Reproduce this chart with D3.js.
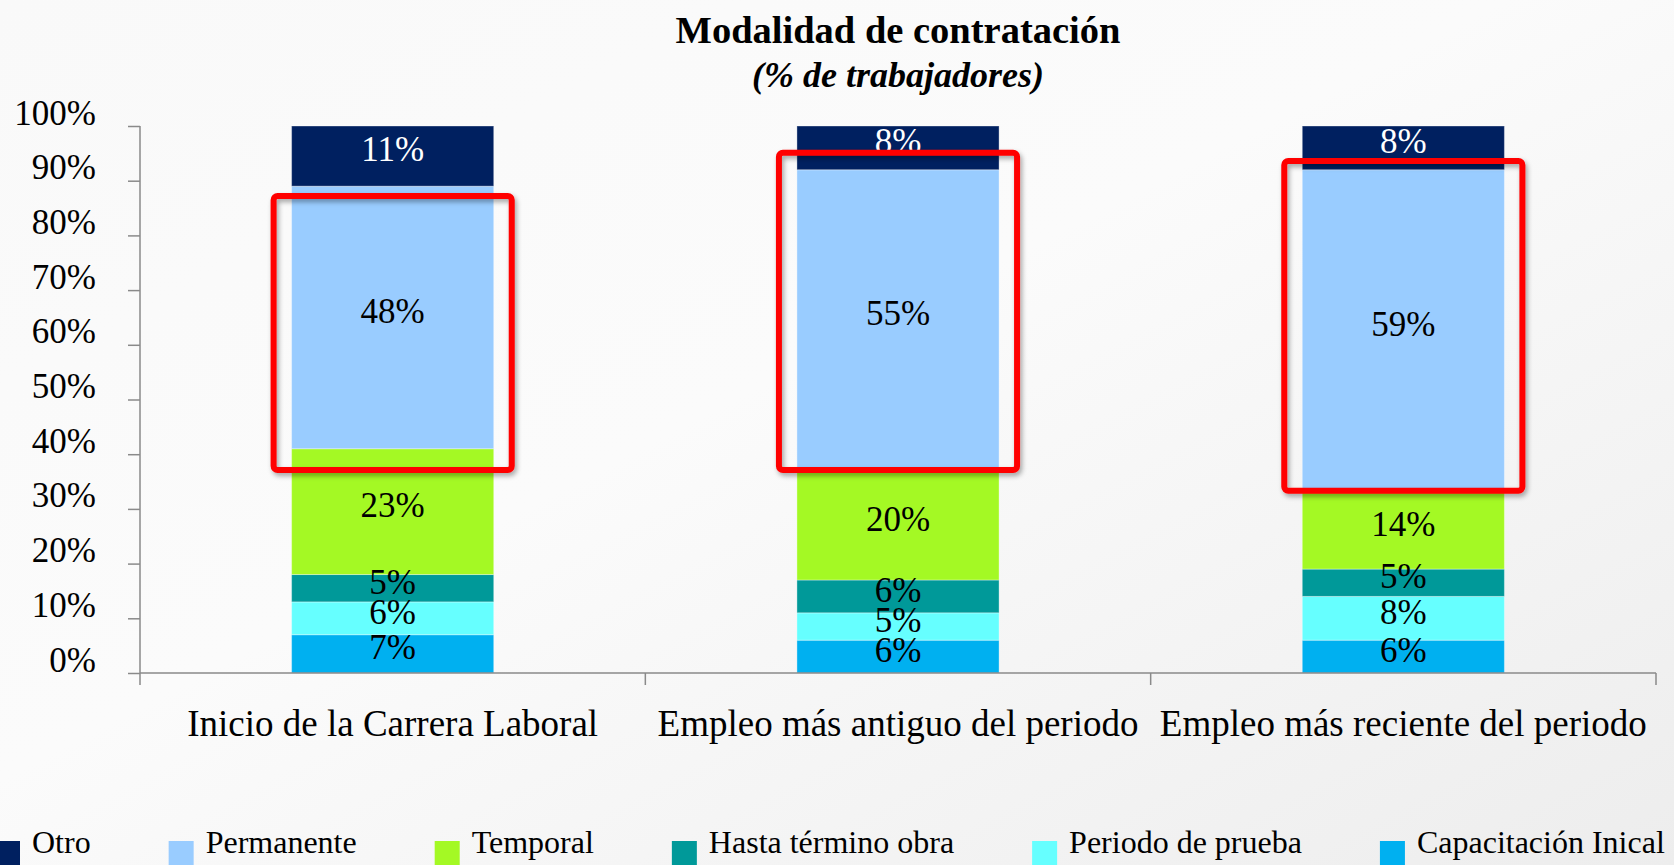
<!DOCTYPE html>
<html>
<head>
<meta charset="utf-8">
<script src="https://cdn.jsdelivr.net/npm/d3@7"></script>
<style>
body { margin: 0; overflow: hidden; background: #f5f5f5; }
svg text { font-family: "Liberation Serif", "Times New Roman", serif; }
</style>
</head>
<body>
<div id="chart"></div>
<script>
var categories = ["Inicio de la Carrera Laboral", "Empleo más antiguo del periodo", "Empleo más reciente del periodo"];

// series, stacked from the bottom up (values in %)
var seriesNames = ["Capacitación Inical", "Periodo de prueba", "Hasta término obra", "Temporal", "Permanente", "Otro"];
var capacitacion = [7, 6, 6];
var prueba = [6, 5, 8];
var obra = [5, 6, 5];
var temporal = [23, 20, 14];
var permanente = [48, 55, 59];
var otro = [11, 8, 8];

var yTicks = [0, 10, 20, 30, 40, 50, 60, 70, 80, 90, 100];
var legendOrder = ["Otro", "Permanente", "Temporal", "Hasta término obra", "Periodo de prueba", "Capacitación Inical"];

// red highlight boxes drawn over the chart, [bottom %, top %] per category
var highlight = [[37.1, 87.2], [37.1, 95.1], [33.3, 93.6]];

var colors = {
    "Otro": "#002060",
    "Permanente": "#99ccff",
    "Temporal": "#a4f924",
    "Hasta término obra": "#009999",
    "Periodo de prueba": "#66ffff",
    "Capacitación Inical": "#00b0f0"
};

var width = 1674, height = 865;
var plotLeft = 140, plotRight = 1656, plotTop = 126, plotBottom = 673;

var rows = categories.map(function(c, i) {
    return {
        cat: c,
        "Capacitación Inical": capacitacion[i],
        "Periodo de prueba": prueba[i],
        "Hasta término obra": obra[i],
        "Temporal": temporal[i],
        "Permanente": permanente[i],
        "Otro": otro[i]
    };
});

var svg = d3.select("#chart").append("svg")
    .attr("width", width)
    .attr("height", height);

var defs = svg.append("defs");
var grad = defs.append("linearGradient")
    .attr("id", "bg")
    .attr("x1", "0").attr("y1", "0").attr("x2", "1").attr("y2", "1");
grad.append("stop").attr("offset", "0").attr("stop-color", "#f9f9f9");
grad.append("stop").attr("offset", "0.45").attr("stop-color", "#fbfbfb");
grad.append("stop").attr("offset", "1").attr("stop-color", "#ededed");

var shadow = defs.append("filter").attr("id", "shadow")
    .attr("x", "-10%").attr("y", "-10%").attr("width", "120%").attr("height", "120%");
shadow.append("feDropShadow")
    .attr("dx", 2).attr("dy", 3)
    .attr("stdDeviation", 2.5)
    .attr("flood-color", "#000")
    .attr("flood-opacity", 0.35);

svg.append("rect")
    .attr("width", width).attr("height", height)
    .attr("fill", "url(#bg)");

var x = d3.scaleBand()
    .domain(categories)
    .range([plotLeft, plotRight])
    .paddingInner(0.6)
    .paddingOuter(0.3);

var y = d3.scaleLinear()
    .domain([0, 100])
    .range([plotBottom, plotTop]);

// title
var cx = (plotLeft + plotRight) / 2;
svg.append("text")
    .attr("x", cx).attr("y", 43)
    .attr("text-anchor", "middle")
    .attr("font-size", 38.5)
    .attr("font-weight", "bold")
    .text("Modalidad de contratación");
svg.append("text")
    .attr("x", cx).attr("y", 87)
    .attr("text-anchor", "middle")
    .attr("font-size", 36)
    .attr("font-weight", "bold")
    .attr("font-style", "italic")
    .text("(% de trabajadores)");

// y axis
var yAxis = svg.append("g")
    .attr("transform", "translate(" + plotLeft + ",0)")
    .call(d3.axisLeft(y)
        .tickValues(yTicks)
        .tickFormat(function(d) { return d + "%"; })
        .tickSize(12)
        .tickPadding(32));
yAxis.select(".domain").remove();
yAxis.selectAll(".tick line").attr("stroke", "#8a8a8a").attr("stroke-width", 1.5);
yAxis.selectAll(".tick text")
    .attr("dy", -2)
    .attr("font-size", 35)
    .attr("fill", "#000");

svg.append("line")
    .attr("x1", plotLeft).attr("x2", plotLeft)
    .attr("y1", y(100)).attr("y2", plotBottom + 12)
    .attr("stroke", "#8a8a8a").attr("stroke-width", 1.5);

// bars
var stack = d3.stack().keys(seriesNames);
var layers = stack(rows);

var bars = svg.append("g");
layers.forEach(function(layer) {
    bars.selectAll(null)
        .data(layer)
        .enter().append("rect")
        .attr("x", function(d) { return x(d.data.cat); })
        .attr("width", x.bandwidth())
        .attr("y", function(d) { return y(d[1]); })
        .attr("height", function(d) { return y(d[0]) - y(d[1]); })
        .attr("fill", colors[layer.key])
        .attr("stroke", "rgba(255,255,255,0.35)")
        .attr("stroke-width", 1);
});

// x axis
svg.append("line")
    .attr("x1", plotLeft).attr("x2", plotRight)
    .attr("y1", plotBottom).attr("y2", plotBottom)
    .attr("stroke", "#8a8a8a").attr("stroke-width", 1.5);

var gap = (x.step() - x.bandwidth()) / 2;
var bounds = categories.map(function(c) { return x(c) - gap; });
bounds.push(x(categories[categories.length - 1]) + x.bandwidth() + gap);
svg.selectAll(null)
    .data(bounds.slice(1))
    .enter().append("line")
    .attr("x1", function(d) { return d; })
    .attr("x2", function(d) { return d; })
    .attr("y1", plotBottom).attr("y2", plotBottom + 12)
    .attr("stroke", "#8a8a8a").attr("stroke-width", 1.5);

svg.selectAll(null)
    .data(categories)
    .enter().append("text")
    .attr("x", function(d) { return x(d) + x.bandwidth() / 2; })
    .attr("y", 736)
    .attr("text-anchor", "middle")
    .attr("font-size", 37)
    .text(function(d) { return d; });

// data labels
var labels = svg.append("g");
layers.forEach(function(layer) {
    labels.selectAll(null)
        .data(layer)
        .enter().append("text")
        .attr("x", function(d) { return x(d.data.cat) + x.bandwidth() / 2; })
        .attr("y", function(d) { return (y(d[0]) + y(d[1])) / 2 + 5.3; })
        .attr("text-anchor", "middle")
        .attr("font-size", 35)
        .attr("fill", layer.key == "Otro" ? "#fff" : "#000")
        .text(function(d) { return (d[1] - d[0]) + "%"; });
});

// red highlight boxes
svg.append("g").selectAll("rect")
    .data(highlight)
    .enter().append("rect")
    .attr("x", function(d, i) { return x(categories[i]) - 18; })
    .attr("width", x.bandwidth() + 36)
    .attr("y", function(d) { return y(d[1]); })
    .attr("height", function(d) { return y(d[0]) - y(d[1]); })
    .attr("rx", 4)
    .attr("fill", "none")
    .attr("stroke", "#ff0000")
    .attr("stroke-width", 6)
    .attr("filter", "url(#shadow)");

// legend
var legend = svg.append("g");
var lx = -5;
legendOrder.forEach(function(name) {
    legend.append("rect")
        .attr("x", lx).attr("y", 841)
        .attr("width", 25).attr("height", 25)
        .attr("fill", colors[name]);
    var t = legend.append("text")
        .attr("x", lx + 37).attr("y", 853)
        .attr("font-size", 32)
        .text(name);
    lx += 37 + t.node().getComputedTextLength() + 78;
});
</script>
</body>
</html>
